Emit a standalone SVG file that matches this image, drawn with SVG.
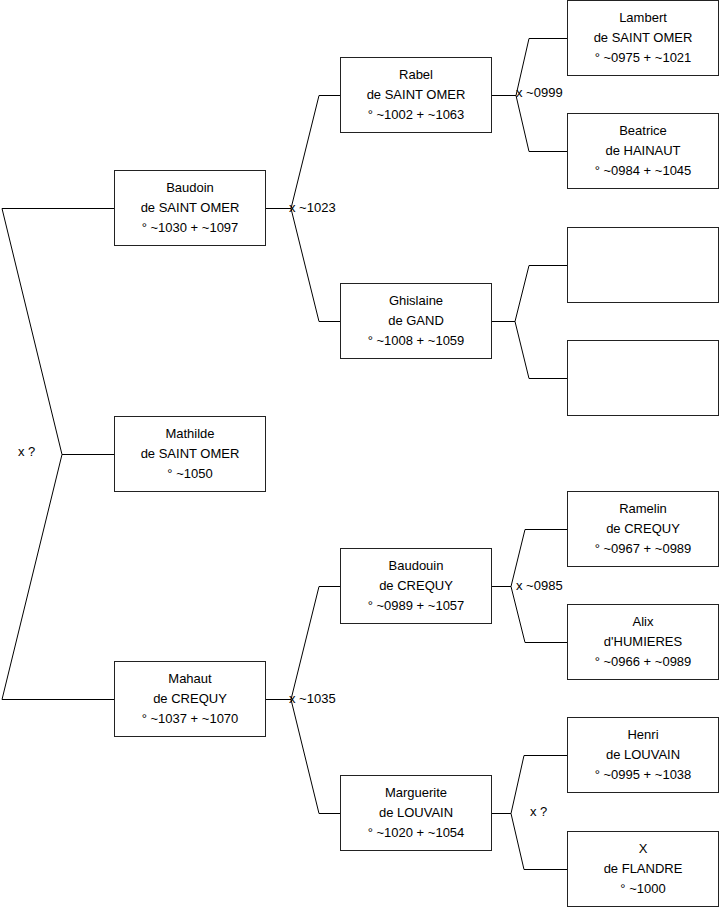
<svg xmlns="http://www.w3.org/2000/svg" width="719" height="908" viewBox="0 0 719 908">
<style>
.box{fill:#fff;stroke:#222;stroke-width:1}
.t{font-family:"Liberation Sans",Arial,sans-serif;font-size:13px;fill:#000;text-anchor:middle}
.l{font-family:"Liberation Sans",Arial,sans-serif;font-size:13px;fill:#000}
.c{fill:none;stroke:#000;stroke-width:1}
</style>
<rect width="719" height="908" fill="#fff"/>
<g id="connectors">
<path class="c" d="M114,208.5 H2 L62,454.5 L2,699.5 H114 M62,454.5 H114"/>
<path class="c" d="M265,208.5 H291 M340,95.5 H319 L291,208.5 L319,321.5 H340"/>
<path class="c" d="M491,95.5 H516 M567,38.5 H529 L516,95.5 L529,151.5 H567"/>
<path class="c" d="M491,321.5 H515 M567,265.5 H529 L515,321.5 L529,378.5 H567"/>
<path class="c" d="M265,699.5 H291 M340,586.5 H319 L291,699.5 L319,813.5 H340"/>
<path class="c" d="M491,586.5 H511 M567,529.5 H525 L511,586.5 L525,642.5 H567"/>
<path class="c" d="M491,813.5 H511 M567,755.5 H524 L511,813.5 L524,869.5 H567"/>
<text class="l" x="18" y="456">x ?</text>
<text class="l" x="289" y="212">x ~1023</text>
<text class="l" x="516" y="97">x ~0999</text>
<text class="l" x="289" y="703">x ~1035</text>
<text class="l" x="516" y="590">x ~0985</text>
<text class="l" x="530" y="816">x ?</text>
</g>
<g id="baudoin"><rect class="box" x="114.5" y="170.5" width="151" height="75"/><text class="t" x="190" y="192">Baudoin</text><text class="t" x="190" y="212">de SAINT OMER</text><text class="t" x="190" y="232">° ~1030 + ~1097</text></g>
<g id="mathilde"><rect class="box" x="114.5" y="416.5" width="151" height="75"/><text class="t" x="190" y="438">Mathilde</text><text class="t" x="190" y="458">de SAINT OMER</text><text class="t" x="190" y="478">° ~1050</text></g>
<g id="mahaut"><rect class="box" x="114.5" y="661.5" width="151" height="75"/><text class="t" x="190" y="683">Mahaut</text><text class="t" x="190" y="703">de CREQUY</text><text class="t" x="190" y="723">° ~1037 + ~1070</text></g>
<g id="rabel"><rect class="box" x="340.5" y="57.5" width="151" height="75"/><text class="t" x="416" y="79">Rabel</text><text class="t" x="416" y="99">de SAINT OMER</text><text class="t" x="416" y="119">° ~1002 + ~1063</text></g>
<g id="ghislaine"><rect class="box" x="340.5" y="283.5" width="151" height="75"/><text class="t" x="416" y="305">Ghislaine</text><text class="t" x="416" y="325">de GAND</text><text class="t" x="416" y="345">° ~1008 + ~1059</text></g>
<g id="baudouin"><rect class="box" x="340.5" y="548.5" width="151" height="75"/><text class="t" x="416" y="570">Baudouin</text><text class="t" x="416" y="590">de CREQUY</text><text class="t" x="416" y="610">° ~0989 + ~1057</text></g>
<g id="marguerite"><rect class="box" x="340.5" y="775.5" width="151" height="75"/><text class="t" x="416" y="797">Marguerite</text><text class="t" x="416" y="817">de LOUVAIN</text><text class="t" x="416" y="837">° ~1020 + ~1054</text></g>
<g id="lambert"><rect class="box" x="567.5" y="0.5" width="151" height="75"/><text class="t" x="643" y="22">Lambert</text><text class="t" x="643" y="42">de SAINT OMER</text><text class="t" x="643" y="62">° ~0975 + ~1021</text></g>
<g id="beatrice"><rect class="box" x="567.5" y="113.5" width="151" height="75"/><text class="t" x="643" y="135">Beatrice</text><text class="t" x="643" y="155">de HAINAUT</text><text class="t" x="643" y="175">° ~0984 + ~1045</text></g>
<g id="empty1"><rect class="box" x="567.5" y="227.5" width="151" height="75"/></g>
<g id="empty2"><rect class="box" x="567.5" y="340.5" width="151" height="75"/></g>
<g id="ramelin"><rect class="box" x="567.5" y="491.5" width="151" height="75"/><text class="t" x="643" y="513">Ramelin</text><text class="t" x="643" y="533">de CREQUY</text><text class="t" x="643" y="553">° ~0967 + ~0989</text></g>
<g id="alix"><rect class="box" x="567.5" y="604.5" width="151" height="75"/><text class="t" x="643" y="626">Alix</text><text class="t" x="643" y="646">d'HUMIERES</text><text class="t" x="643" y="666">° ~0966 + ~0989</text></g>
<g id="henri"><rect class="box" x="567.5" y="717.5" width="151" height="75"/><text class="t" x="643" y="739">Henri</text><text class="t" x="643" y="759">de LOUVAIN</text><text class="t" x="643" y="779">° ~0995 + ~1038</text></g>
<g id="xflandre"><rect class="box" x="567.5" y="831.5" width="151" height="75"/><text class="t" x="643" y="853">X</text><text class="t" x="643" y="873">de FLANDRE</text><text class="t" x="643" y="893">° ~1000</text></g>
</svg>
